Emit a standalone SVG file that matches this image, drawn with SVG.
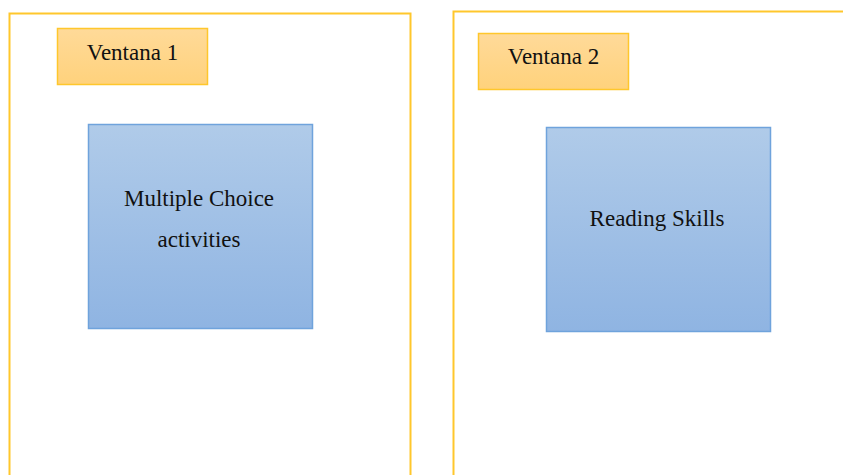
<svg xmlns="http://www.w3.org/2000/svg" width="843" height="475" viewBox="0 0 843 475">
<defs>
<linearGradient id="og" x1="0" y1="0" x2="0" y2="1"><stop offset="0" stop-color="#FFDA99"/><stop offset="1" stop-color="#FFD27C"/></linearGradient>
<linearGradient id="bg" x1="0" y1="0" x2="0" y2="1"><stop offset="0" stop-color="#B0CBE9"/><stop offset="1" stop-color="#8FB4E2"/></linearGradient>
</defs>
<style>
.frame{fill:none;stroke:#FFC72C;stroke-width:2}
.lbl{fill:url(#og);stroke:#FFC72C;stroke-width:1.5}
.blue{fill:url(#bg);stroke:#6FA3DC;stroke-width:1.5}
text{font-family:"Liberation Serif","Times New Roman",serif;font-size:23px;fill:#111;text-anchor:middle}
</style>
<rect width="843" height="475" fill="#fff"/>
<g id="frame1"><path class="frame" d="M9.5,476 V13.5 H410.5 V476"/></g>
<g id="frame2"><path class="frame" d="M453.5,476 V11.5 H845"/></g>
<g id="ventana1"><rect class="lbl" x="57.5" y="28.5" width="150" height="56"/><text x="132.5" y="60">Ventana 1</text></g>
<g id="ventana2"><rect class="lbl" x="478.5" y="33.5" width="150" height="56"/><text x="553.5" y="64">Ventana 2</text></g>
<g id="mc"><rect class="blue" x="88.5" y="124.5" width="224" height="204"/><text x="199" y="206">Multiple Choice</text><text x="199" y="247">activities</text></g>
<g id="rs"><rect class="blue" x="546.5" y="127.5" width="224" height="204"/><text x="657" y="226">Reading Skills</text></g>
<g id="connectors"/>
</svg>
